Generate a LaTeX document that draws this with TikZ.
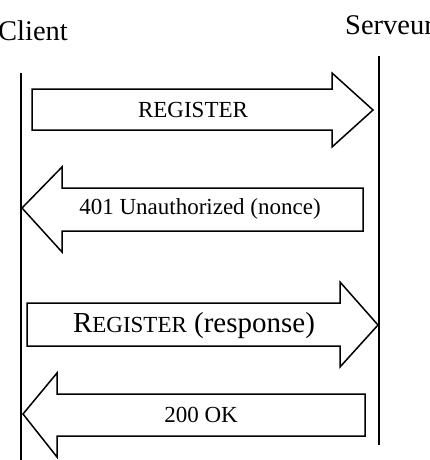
\documentclass[tikz,border=0pt]{standalone}
\usepackage{fontspec}
\setmainfont{Liberation Serif}
\usepackage{tikz}

\tikzset{
  lifeline/.style={line width=2.2pt},
  msg/.style={draw, line width=1.5pt, line join=miter, fill=white},
  msglabel/.style={inner sep=0pt, font=\fontsize{23}{27}\selectfont},
  actor/.style={inner sep=0pt, font=\fontsize{28.5}{32}\selectfont}
}

\begin{document}
\begin{tikzpicture}[x=1pt, y=-1pt]
  \useasboundingbox (0,0) rectangle (430,460);

  \node[actor, anchor=base west] (client) at (-2, 41) {Client};
  \node[actor, anchor=base west] (serveur) at (345, 35) {Serveur};

  \coordinate (c top) at (21, 73);
  \coordinate (c bot) at (21, 462);
  \coordinate (s top) at (379, 56);
  \coordinate (s bot) at (379, 445);
  \draw[lifeline] (c top) -- (c bot);
  \draw[lifeline] (s top) -- (s bot);

  % REGISTER
  \draw[msg] (32, 89) -- (332, 89) -- (332, 73) -- (373, 110) -- (332, 147)
    -- (332, 130) -- (32, 130) -- cycle;
  \node[msglabel] (register) at (193, 110) {REGISTER};

  % 401
  \draw[msg] (363, 188) -- (62, 188) -- (62, 167) -- (22, 208) -- (62, 252)
    -- (62, 231) -- (363, 231) -- cycle;
  \node[msglabel] (unauth) at (200, 209) {401 Unauthorized (nonce)};

  % REGISTER (response)
  \draw[msg] (27, 303) -- (340, 303) -- (340, 282) -- (378, 325) -- (340, 367)
    -- (340, 346) -- (27, 346) -- cycle;
  \node[inner sep=0pt, font=\fontsize{29}{33}\selectfont] (response) at (194, 326)
    {R{\fontsize{23}{27}\selectfont EGISTER} (response)};

  % 200 OK
  \draw[msg] (365, 394) -- (57, 394) -- (57, 373) -- (23, 414) -- (57, 457)
    -- (57, 436) -- (365, 436) -- cycle;
  \node[msglabel] (ok) at (201, 415) {200 OK};
\end{tikzpicture}
\end{document}
